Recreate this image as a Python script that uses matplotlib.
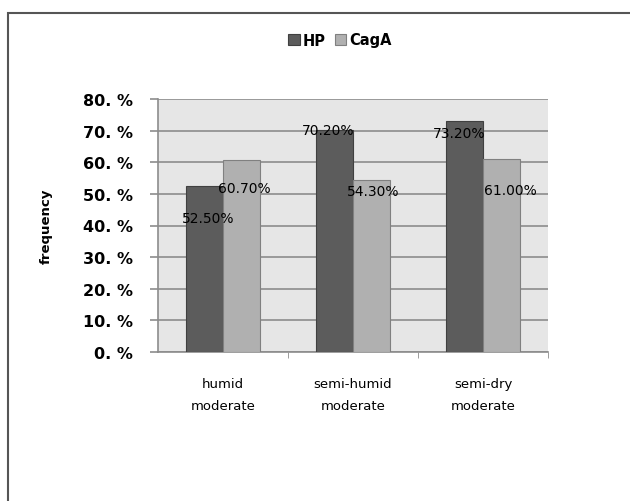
import numpy as np
import matplotlib.pyplot as plt
from matplotlib.patches import Rectangle

categories = ['humid\nmoderate', 'semi-humid\nmoderate', 'semi-dry\nmoderate']
hp = [52.5, 70.2, 73.2]
caga = [60.7, 54.3, 61.0]
hp_labels = ['52.50%', '70.20%', '73.20%']
caga_labels = ['60.70%', '54.30%', '61.00%']
yticks = [0, 10, 20, 30, 40, 50, 60, 70, 80]

fig = plt.figure(figsize=(6.3, 5.02), dpi=100)
fig.patch.set_facecolor('white')
# outer chart border (cut off at right/bottom like the scan)
fig.patches.append(Rectangle((8 / 630, -0.05), 1.0, 1 - 14 / 502 + 0.05,
                             transform=fig.transFigure, fill=False,
                             edgecolor='#555555', linewidth=1.5))

ax = fig.add_axes([158 / 630, 1 - 353 / 502, 390 / 630, 253 / 502])
ax.set_facecolor('#e6e6e6')

x = np.arange(len(categories))
w = 0.285
b1 = ax.bar(x - w / 2, hp, w, color='#5c5c5c', edgecolor='#404040', linewidth=0.8, label='HP', zorder=3)
b2 = ax.bar(x + w / 2, caga, w, color='#b0b0b0', edgecolor='#808080', linewidth=0.8, label='CagA', zorder=3)

# data labels (placement mimics the original Excel output)
hp_off = [(0.03, -10.0), (-0.05, 0.0), (-0.04, -4.0)]
caga_off = [(0.02, -9.0), (0.01, -3.5), (0.07, -9.8)]
for i in range(len(categories)):
    ax.text(x[i] - w / 2 + hp_off[i][0], hp[i] + hp_off[i][1], hp_labels[i],
            ha='center', va='center', fontsize=10, zorder=5)
    ax.text(x[i] + w / 2 + caga_off[i][0], caga[i] + caga_off[i][1], caga_labels[i],
            ha='center', va='center', fontsize=10, zorder=5)

ax.set_xlim(-0.5, 2.5)
ax.set_ylim(0, 80)
ax.set_yticks(yticks)
ax.set_yticklabels(['%d. %%' % t for t in yticks], fontsize=11.5, fontweight='bold')
ax.yaxis.grid(True, color='#8c8c8c', linewidth=1.2, zorder=0)
ax.set_axisbelow(True)
ax.set_xticks(x)
ax.set_xticklabels(categories, fontsize=9.5, linespacing=1.9)
ax.tick_params(axis='x', length=0, pad=18)
ax.tick_params(axis='y', length=6, color='#8c8c8c', width=1.2, pad=12)
ax.set_xticks([0.5, 1.5, 2.5], minor=True)
ax.tick_params(axis='x', which='minor', length=4, color='#8c8c8c')

for s in ['top', 'right']:
    ax.spines[s].set_visible(False)
ax.spines['left'].set_color('#8c8c8c')
ax.spines['bottom'].set_color('#8c8c8c')
ax.spines['left'].set_linewidth(1.2)
ax.spines['bottom'].set_linewidth(1.2)

ax.set_ylabel('frequency', fontsize=9.5, fontweight='bold', labelpad=22)

fig.legend(handles=[b1, b2], labels=['HP', 'CagA'], loc='center',
           bbox_to_anchor=(340 / 630, 1 - 41 / 502), ncol=2, frameon=False,
           handlelength=0.8, handleheight=0.8, handletextpad=0.2,
           columnspacing=0.6, prop={'weight': 'bold', 'size': 10.5})

fig.savefig('out.png', dpi=100)
